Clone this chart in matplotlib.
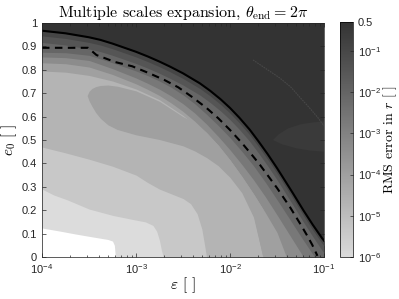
import numpy as np
import matplotlib
matplotlib.use("Agg")
import matplotlib.pyplot as plt
from matplotlib.colors import LinearSegmentedColormap, LogNorm
from matplotlib.cm import ScalarMappable

plt.rcParams["font.family"] = ["Liberation Sans", "DejaVu Sans"]
plt.rcParams["mathtext.fontset"] = "cm"
plt.rcParams["axes.unicode_minus"] = False

# ---- contour band boundaries: log10(eps) and e0 ----
SU = [-4, -3.75, -3.5, -3.38, -3.25, -3.0, -2.875, -2.75, -2.64, -2.5, -2.32, -2.21, -2.1,
      -2.0, -1.9, -1.79, -1.7, -1.6, -1.5, -1.44, -1.33, -1.22, -1.12, -1.02, -1.0]
S_E = [0.967, 0.956, 0.939, 0.928, 0.912, 0.877, 0.857, 0.835, 0.814, 0.785, 0.742, 0.71, 0.674,
       0.637, 0.595, 0.544, 0.496, 0.44, 0.38, 0.342, 0.272, 0.20, 0.138, 0.08, 0.07]   # solid line
B8_E = [0.945, 0.934, 0.917, 0.906, 0.89, 0.855, 0.835, 0.813, 0.792, 0.763, 0.72, 0.688, 0.652,
        0.615, 0.573, 0.522, 0.474, 0.418, 0.358, 0.32, 0.25, 0.178, 0.116, 0.058, 0.048]
B7_E = [0.917, 0.906, 0.889, 0.878, 0.862, 0.827, 0.807, 0.785, 0.764, 0.735, 0.692, 0.66, 0.624,
        0.587, 0.545, 0.494, 0.446, 0.39, 0.33, 0.292, 0.222, 0.15, 0.088, 0.028, 0.018]
G = [-4, -3.75, -3.5, -3.25, -3, -2.875, -2.75, -2.625, -2.5, -2.375, -2.25,
     -2.125, -2.0, -1.875, -1.75, -1.625, -1.5, -1.375, -1.25, -1.125, -1.0]
B6_U = G[:-1] + [-1.1]
B6_E = [0.875, 0.873, 0.862, 0.83, 0.795, 0.775, 0.752, 0.725, 0.693, 0.655, 0.61,
        0.562, 0.51, 0.452, 0.39, 0.32, 0.245, 0.168, 0.09, 0.015, 0.0]
B5_U = G[:-2] + [-1.22]
B5_E = [0.855, 0.852, 0.84, 0.805, 0.765, 0.742, 0.717, 0.688, 0.655, 0.615, 0.568,
        0.515, 0.458, 0.396, 0.33, 0.258, 0.18, 0.10, 0.02, 0.0]
B4_U = G[:-4] + [-1.4]
B4_E = [0.83, 0.826, 0.812, 0.78, 0.74, 0.716, 0.69, 0.658, 0.622, 0.58, 0.532,
        0.478, 0.415, 0.345, 0.27, 0.19, 0.105, 0.0]
B3_U = [-4, -3.75, -3.5, -3.25, -3.0, -2.75, -2.5, -2.375, -2.25, -2.125, -2.0, -1.875, -1.75, -1.65]
B3_E = [0.795, 0.79, 0.776, 0.752, 0.718, 0.672, 0.605, 0.565, 0.51, 0.45, 0.375, 0.29, 0.18, 0.0]
LOBE_U = [-3.52, -3.5, -3.47, -3.43, -3.38, -3.3, -3.2, -3.0, -2.75, -2.5, -2.375,
          -2.25, -2.125, -2.0, -1.875, -1.75, -1.65]
LOBE_BOT = [0.69, 0.668, 0.645, 0.618, 0.593, 0.565, 0.545, 0.522, 0.502, 0.475, 0.453,
            0.425, 0.39, 0.34, 0.275, 0.17, 0.0]
LOBE_TOP = [0.69, 0.708, 0.72, 0.728, 0.733, 0.735, 0.73, 0.71, 0.665, 0.6, 0.575,
            0.532, 0.478, 0.415, 0.345, 0.27, 0.205]
B2_U = [-4, -3.75, -3.5, -3.25, -3.0, -2.875, -2.75, -2.625, -2.5, -2.42, -2.35, -2.3, -2.27, -2.25]
B2_E = [0.47, 0.445, 0.418, 0.388, 0.35, 0.318, 0.29, 0.27, 0.25, 0.228, 0.185, 0.12, 0.05, 0.0]
B1_U = [-4, -3.875, -3.73, -3.5, -3.25, -3.03, -2.9, -2.82, -2.78, -2.75, -2.73, -2.71]
B1_E = [0.29, 0.265, 0.244, 0.205, 0.178, 0.16, 0.15, 0.135, 0.11, 0.07, 0.03, 0.0]
W_U = [-4, -3.8, -3.64, -3.45, -3.3, -3.25, -3.23, -3.22]
W_E = [0.124, 0.11, 0.098, 0.085, 0.075, 0.068, 0.05, 0.0]
DASH_U = [-4, -3.51, -3.42, -3.22, -3.04, -2.87, -2.70, -2.55, -2.40, -2.25, -2.125,
          -2.0, -1.875, -1.75, -1.68, -1.5, -1.36, -1.25, -1.18, -1.125, -1.07]
DASH_E = [0.894, 0.894, 0.863, 0.833, 0.815, 0.787, 0.757, 0.725, 0.683, 0.637, 0.593,
          0.543, 0.488, 0.428, 0.393, 0.295, 0.212, 0.14, 0.092, 0.052, 0.005]
TONGUE_U = [-1.543, -1.48, -1.38, -1.25, -1.12, -1.0, -1.0, -1.15, -1.3, -1.45]
TONGUE_E = [0.50, 0.525, 0.55, 0.567, 0.575, 0.58, 0.45, 0.455, 0.465, 0.482]
STREAK_U = [-1.755, -1.6, -1.47, -1.35, -1.26, -1.16, -1.07, -1.0]
STREAK_E = [0.842, 0.8, 0.765, 0.725, 0.684, 0.64, 0.598, 0.56]

BANDS = [(SU, S_E, "#464646"), (SU, B8_E, "#555555"), (SU, B7_E, "#666666"),
         (B6_U, B6_E, "#787878"), (B5_U, B5_E, "#8c8c8c"), (B4_U, B4_E, "#a0a0a0"),
         (B3_U, B3_E, "#b4b4b4")]

CB_TICKS = [1e-6, 1e-5, 1e-4, 1e-3, 1e-2, 1e-1, 0.5]
CB_LABELS = ["$\\mathdefault{10^{-6}}$", "$\\mathdefault{10^{-5}}$", "$\\mathdefault{10^{-4}}$",
             "$\\mathdefault{10^{-3}}$", "$\\mathdefault{10^{-2}}$", "$\\mathdefault{10^{-1}}$", "0.5"]

e = lambda u: 10.0 ** np.asarray(u)

fig = plt.figure(figsize=(3.99, 2.99), dpi=100)
ax = fig.add_axes([42 / 399, 1 - 257 / 299, 282 / 399, 234 / 299])
ax.set_facecolor("#333333")

for u, top, col in BANDS:
    ax.fill_between(e(u), 0, top, color=col, lw=0)
ax.fill_between(e(LOBE_U), LOBE_BOT, LOBE_TOP, color="#a0a0a0", lw=0)
ax.fill_between(e(B2_U), 0, B2_E, color="#c8c8c8", lw=0)
ax.fill_between(e(B1_U), 0, B1_E, color="#dcdcdc", lw=0)
ax.fill_between(e(W_U), 0, W_E, color="white", lw=0)
ax.fill(e(TONGUE_U), TONGUE_E, color="#3a3a3a", lw=0)
ax.plot(e(STREAK_U), STREAK_E, color="#484848", lw=0.8, ls=(0, (1.5, 0.8)))

ax.plot(e(SU), S_E, color="black", lw=1.5)
ax.plot(e(DASH_U), DASH_E, color="black", lw=1.5, ls=(0, (3.6, 2.6)))

ax.set_xscale("log")
ax.set_xlim(1e-4, 1e-1)
ax.set_ylim(0, 1)
ax.set_yticks(np.arange(0, 1.01, 0.1))
ax.set_yticklabels(["0", "0.1", "0.2", "0.3", "0.4", "0.5", "0.6", "0.7", "0.8", "0.9", "1"])
ax.tick_params(which="both", direction="in", top=True, right=True, labelsize=8,
               colors="#262626", width=0.5)
ax.tick_params(which="major", length=3)
ax.tick_params(which="minor", length=1.8)
for sp in ax.spines.values():
    sp.set_color("#262626"); sp.set_linewidth(0.5)
ax.set_xlabel(r"$\varepsilon$ [ ]", fontfamily="cmr10", fontsize=11, labelpad=0)
ax.set_ylabel(r"$e_0$ [ ]", fontfamily="cmr10", fontsize=11, labelpad=2)
ax.set_title(r"Multiple scales expansion, $\theta_{\rm end} = 2\pi$", fontfamily="cmr10",
             fontsize=11.5, pad=4)

cmap = LinearSegmentedColormap.from_list("g", ["#dadada", "#333333"])
cax = fig.add_axes([340 / 399, 1 - 257 / 299, 13 / 399, 235 / 299])
cb = fig.colorbar(ScalarMappable(norm=LogNorm(1e-6, 0.5), cmap=cmap), cax=cax)
cb.set_ticks(CB_TICKS)
cb.set_ticklabels(CB_LABELS)
cb.ax.minorticks_off()
cb.ax.tick_params(direction="in", length=2.5, labelsize=8, colors="#262626", width=0.5)
cb.outline.set_linewidth(0.5)
cb.set_label(r"RMS error in $r$ [ ]", fontfamily="cmr10", fontsize=10, labelpad=0)

fig.savefig("out.png", dpi=100)
